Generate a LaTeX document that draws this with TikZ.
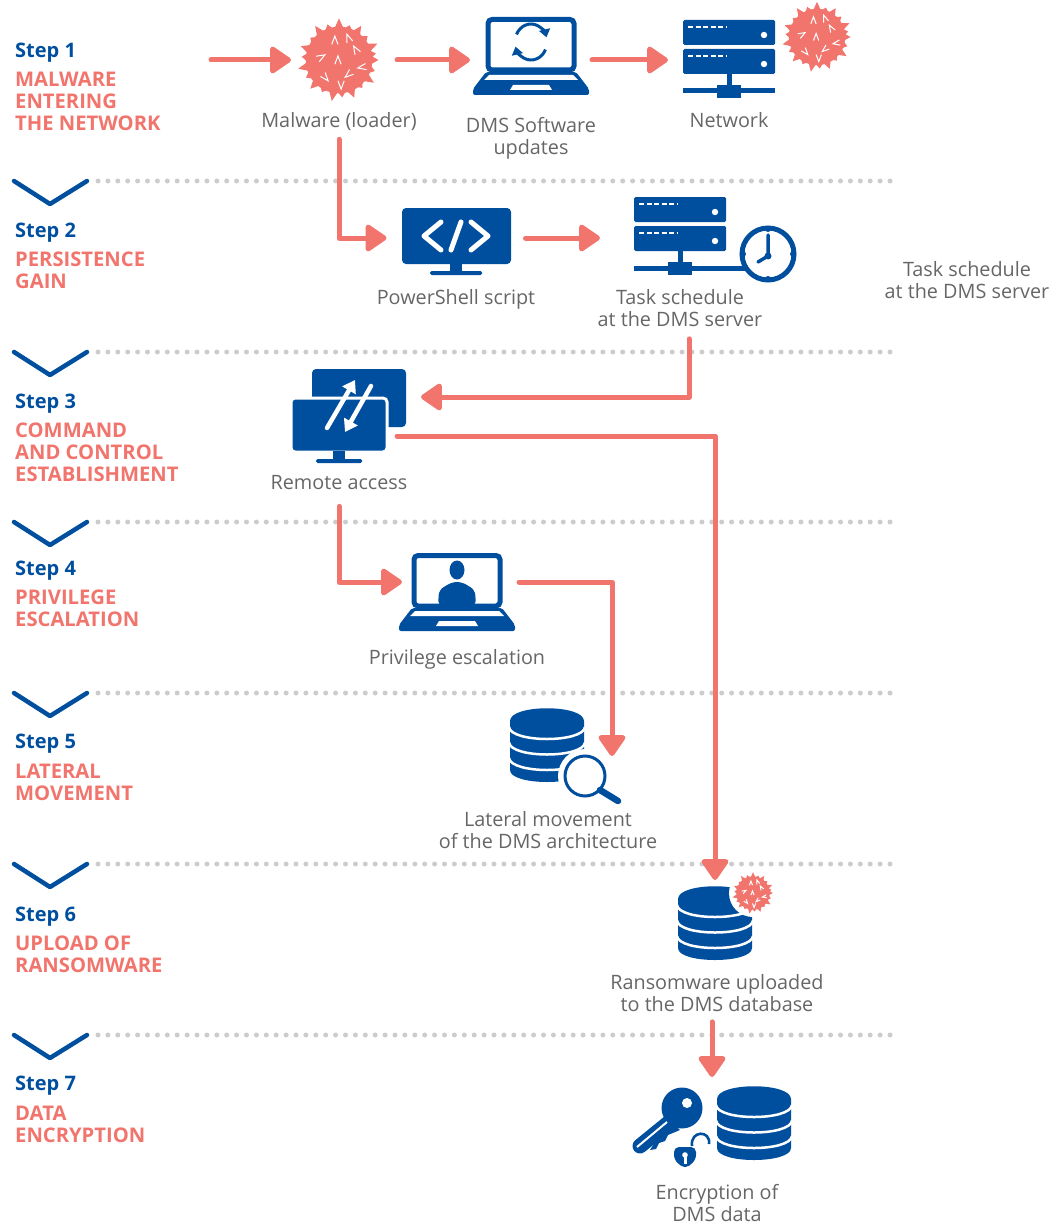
\documentclass[tikz,border=0pt]{standalone}
\usepackage{fontspec}
\setmainfont{Open Sans}
\usetikzlibrary{arrows.meta}

\definecolor{dmsblue}{HTML}{004F9F}
\definecolor{dmspink}{HTML}{F1746D}
\definecolor{dmsgray}{HTML}{666666}
\definecolor{dmsdots}{HTML}{CCCCCC}

\tikzset{
  flow/.style={draw=dmspink,line width=5pt,line join=round,line cap=round,
               -{Triangle[length=23pt,width=30pt,round]}},
  iconbox/.style={inner sep=0pt,outer sep=0pt,minimum height=#1},
  iconbox/.default=30pt,
  lbl/.style={text=dmsgray,font=\fontsize{19.8}{22}\selectfont,align=center,inner sep=0pt},
  steplbl/.style={text=dmsblue,font=\fontsize{20}{22}\selectfont\bfseries,anchor=west,inner sep=0pt},
  titlelbl/.style={text=dmspink,font=\fontsize{20.2}{22}\selectfont\bfseries,align=left,anchor=north west,inner sep=0pt},
  virus/.pic={
    \fill[dmspink] (0,0) circle (32);
    \foreach \a/\r in {0/38,17/36,33/40,50/35,68/39,85/36,100/40,118/35,135/39,152/36,168/40,
                       185/36,200/39,218/35,235/40,252/36,270/40,287/35,303/39,320/36,337/40,350/36}
      \fill[dmspink] (\a-9:30) -- (\a:\r) -- (\a+9:30) -- cycle;
    \foreach \x/\y/\r in {-4/-19/0,9/-21/20,16/-10/30,-17/-3/-60,-1/0/0,22/7/100,9/14/130,-13/17/-140,2/24/180}
      \draw[white,line width=1pt,shift={(\x,\y)},rotate=\r] (-3,4) -- (0,-4) -- (3,4);
  },
  laptop/.pic={
    \draw[dmsblue,line width=5pt,rounded corners=4pt] (-43,2.5) rectangle (43,53);
    \fill[dmsblue,rounded corners=2pt] (-45,55) -- (45,55) -- (58,72) -- (58,78) -- (-58,78) -- (-58,72) -- cycle;
    \fill[white] (-42,58) -- (42,58) -- (47,63) -- (-47,63) -- cycle;
    \fill[white] (-18,68) -- (18,68) -- (21,73) -- (-21,73) -- cycle;
  },
  server/.pic={
    \foreach \y in {0,29} {
      \fill[dmsblue,rounded corners=1.5pt] (-46,\y) rectangle (46,\y+25);
      \draw[white,line width=2.5pt,dash pattern=on 5pt off 2.5pt] (-41,\y+7) -- (-2,\y+7);
      \fill[white] (35,\y+15) circle (3.2);
    }
    \draw[dmsblue,line width=5pt] (0,54) -- (0,71);
    \draw[dmsblue,line width=5pt] (-46,71) -- (46,71);
    \fill[dmsblue] (-12,65) rectangle (12,78);
  },
  dbstack/.pic={
    \fill[dmsblue] (-37,13) -- (-37,62) .. controls (-37,78) and (37,78) .. (37,62) -- (37,13)
                   .. controls (37,-4) and (-37,-4) .. (-37,13) -- cycle;
    \foreach \y in {19,34.5,50}
      \draw[white,line width=2.5pt] (-38,\y) .. controls (-36,\y+16) and (36,\y+16) .. (38,\y);
  },
}

\begin{document}
\begin{tikzpicture}[x=1pt,y=-1pt]
  \useasboundingbox (0,0) rectangle (1050,1225);

  \foreach \y in {181,352,522,693,864,1035} {
    \draw[dmsdots,line width=5pt,line cap=round,dash pattern=on 0pt off 9.9pt] (98,\y) -- (890,\y);
    \draw[dmsblue,line width=4.5pt,line cap=round,line join=round] (14,\y) -- (50,\y+23) -- (87,\y);
  }

  \foreach \n/\ys/\yt/\title in {1/53/72/{MALWARE\\ENTERING\\THE NETWORK},2/233/252/{PERSISTENCE\\GAIN},
      3/404/423/{COMMAND\\AND CONTROL\\ESTABLISHMENT},4/571/590/{PRIVILEGE\\ESCALATION},
      5/744/764/{LATERAL\\MOVEMENT},6/917/936/{UPLOAD OF\\RANSOMWARE},7/1086/1106/{DATA\\ENCRYPTION}} {
    \node[steplbl]  (step\n)  at (15,\ys) {Step \n};
    \node[titlelbl] (title\n) at (15,\yt) {\title};
  }

  \coordinate (entry) at (211,60);
  \node[iconbox,minimum width=96pt]  (malware)                                   at (339,60) {};
  \node[iconbox,minimum width=122pt] (updates) [right of=malware,node distance=192pt] {};
  \node[iconbox,minimum width=122pt] (network) [right of=updates,node distance=198pt] {};
  \node[iconbox,minimum width=139pt] (pscript)                                   at (456,238) {};
  \node[iconbox,minimum width=160pt] (tasksrv)                                   at (680,238) {};
  \node[iconbox,minimum width=164pt] (remote)                                    at (339,397) {};
  \coordinate (remoteout) at (397,436);
  \node[iconbox,minimum width=110pt] (privesc)                                   at (457,582) {};
  \coordinate (lateraltip) at (612,756);
  \node[iconbox=88pt,minimum width=74pt] (ransom)                                at (715,924) {};
  \node[iconbox=96pt,minimum width=74pt] (encrypt)                               at (712,1125) {};

  \node[lbl] (malwarelbl) [below of=malware,node distance=62pt]  {Malware (loader)};
  \node[lbl] (updateslbl) [below of=updates,node distance=78pt]  {DMS Software\\updates};
  \node[lbl] (networklbl) [below of=network,node distance=60pt]  {Network};
  \node[lbl] (pscriptlbl) [below of=pscript,node distance=61pt]  {PowerShell script};
  \node[lbl] (tasksrvlbl) [below of=tasksrv,node distance=70pt]  {Task schedule\\at the DMS server};
  \node[lbl] (strayllbl)                                         at (967,280) {Task schedule\\at the DMS server};
  \node[lbl] (remotelbl)  [below of=remote,node distance=86pt]   {Remote access};
  \node[lbl] (privesclbl) [below of=privesc,node distance=77pt]  {Privilege escalation};
  \node[lbl] (laterallbl)                                        at (548,830) {Lateral movement\\of the DMS architecture};
  \node[lbl] (ransomlbl)                                         at (717,993) {Ransomware uploaded\\to the DMS database};
  \node[lbl] (encryptlbl)                                        at (717,1203) {Encryption of\\DMS data};

  \pic[scale=1.04] at (malware) {virus};
  \pic[scale=.88] at (817,37) {virus};
  \pic at (729,20) {server};

  \fill[dmsblue,rounded corners=4pt] (402,208) rectangle (511,264);
  \fill[dmsblue] (450,264) rectangle (462,272);
  \fill[dmsblue,rounded corners=1.5pt] (430,271) rectangle (482,275);
  \draw[white,line width=5pt,line cap=round,line join=round]
    (441,222) -- (424,236) -- (441,250) (451,250) -- (461,222) (471,222) -- (488,236) -- (471,250);

  \pic at (680,197) {server};
  \draw[dmsblue,line width=5pt] (690,268) -- (745,268);
  \draw[dmsblue,line width=5pt,fill=white] (768,254) circle (26);
  \draw[dmsblue,line width=3.5pt,line cap=round,line join=round] (768,235) -- (768,256) -- (758,262);
  \fill[dmsblue] (768,256) circle (3.5);
  \foreach \a in {0,90,180,270}
    \fill[dmsblue] (768,254)++(\a:25) circle (3);

  \fill[dmsblue,rounded corners=4pt] (312,369) rectangle (406,427);
  \fill[dmsblue,rounded corners=4pt,draw=white,line width=3pt] (291,398) rectangle (387,452);
  \fill[dmsblue] (333,451) rectangle (345,460);
  \fill[dmsblue,rounded corners=1.5pt] (316,459) rectangle (362,463);
  \draw[white,line width=4.5pt,line cap=round,-{Triangle[length=12pt,width=15pt]}] (327,428) -- (355,380);
  \draw[white,line width=4.5pt,line cap=round,-{Triangle[length=12pt,width=15pt]}] (371,386) -- (345,432);

  \pic at (531,17) {laptop};
  \draw[dmsblue,line width=3pt,-{Triangle[length=8pt,width=11pt]},x radius=16,y radius=18] (531,42)++(25:16 and 18) arc[start angle=25,end angle=165];
  \draw[dmsblue,line width=3pt,-{Triangle[length=8pt,width=11pt]},x radius=16,y radius=18] (531,42)++(205:16 and 18) arc[start angle=205,end angle=345];

  \pic at (457,553) {laptop};
  \fill[dmsblue] (457,570) ellipse (7.5 and 9.5);
  \fill[dmsblue,rounded corners=5pt] (438,606) -- (439,590) -- (452,582) -- (462,582) -- (475,590) -- (476,606) -- cycle;

  \pic at (547,708) {dbstack};
  \fill[white] (585,776) circle (27);
  \draw[dmsblue,line width=3pt] (585,776) circle (20);
  \draw[dmsblue,line width=6.5pt,line cap=round] (600,790) -- (618,801);

  \pic at (715,886) {dbstack};
  \fill[white] (753,893) circle (24);
  \pic[scale=.52] at (753,893) {virus};

  \pic at (754,1086) {dbstack};
  \fill[dmsblue] (682,1108) circle (20.5);
  \fill[white] (687,1103) circle (5);
  \draw[dmsblue,line width=15pt,line cap=round] (672,1120) -- (640,1146);
  \fill[dmsblue] (655,1142) -- (675,1125) -- (680,1130) -- (668,1135) -- (665,1141) -- (659,1143) -- (656,1149) -- (650,1150) -- cycle;
  \draw[white,line width=2pt] (667,1122) -- (637,1147);
  \fill[dmsblue,rounded corners=5pt] (674,1147) -- (696,1147) -- (696,1160) -- (685,1169) -- (674,1160) -- cycle;
  \fill[white] (685,1155) circle (2.8);
  \fill[white] (683.5,1155) rectangle (686.5,1164);
  \draw[dmsblue,line width=2.6pt] (692,1146) .. controls (690,1130) and (711,1130) .. (709,1144);

  \path[flow] (entry) -- (malware);
  \path[flow,shorten <=10pt] (malware) -- (updates);
  \path[flow] (updates) -- (network);
  \path[flow,shorten <=8pt] (malwarelbl) |- (pscript);
  \path[flow] (pscript) -- (tasksrv);
  \path[flow,shorten <=12pt] ([xshift=9pt]tasksrvlbl.south) |- (remote);
  \path[flow] (remoteout) -| (ransom);
  \path[flow,shorten <=16pt] (remotelbl) |- (privesc);
  \path[flow,shorten <=7pt] (privesc) -| (lateraltip);
  \path[flow,shorten <=10pt] (encrypt |- ransomlbl.south) -- (encrypt);
\end{tikzpicture}
\end{document}
